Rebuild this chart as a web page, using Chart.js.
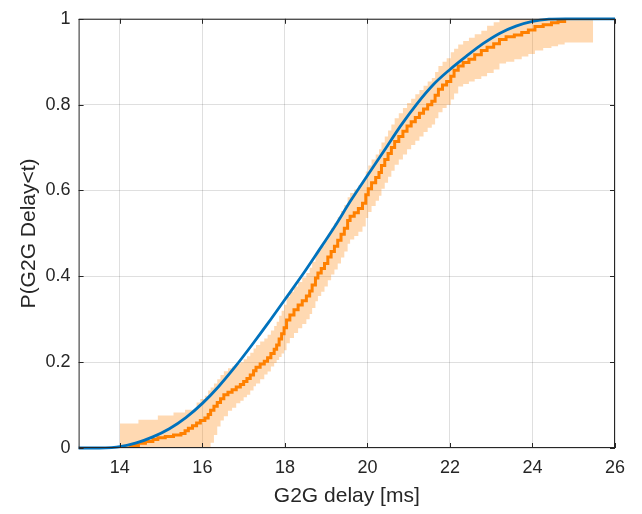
<!DOCTYPE html>
<html>
<head>
<meta charset="utf-8">
<script src="https://cdn.jsdelivr.net/npm/chart.js@4"></script>
<style>
  html, body { margin: 0; padding: 0; background: #fff; }
  #wrap { width: 642px; height: 514px; }
</style>
</head>
<body>
<div id="wrap"><canvas id="cdf" width="642" height="514"></canvas></div>
<script>
// Empirical CDF of the G2G delay (stairs)
const ecdfX = [
  14.00, 14.25, 14.45, 14.62, 14.80, 14.92, 15.10, 15.30, 15.48, 15.58,
  15.66, 15.76, 15.86, 15.95, 16.06, 16.14, 16.20, 16.28, 16.36, 16.44,
  16.52, 16.62, 16.72, 16.82, 16.92, 17.00, 17.08, 17.16, 17.24, 17.30,
  17.40, 17.50, 17.58, 17.66, 17.74, 17.80, 17.86, 17.92, 17.98, 18.04,
  18.12, 18.22, 18.32, 18.42, 18.52, 18.60, 18.66, 18.74, 18.80, 18.88,
  18.96, 19.04, 19.12, 19.20, 19.28, 19.36, 19.44, 19.52, 19.58, 19.68,
  19.78, 19.88, 19.96, 20.02, 20.10, 20.20, 20.28, 20.34, 20.42, 20.50,
  20.58, 20.66, 20.76, 20.86, 20.96, 21.06, 21.16, 21.26, 21.36, 21.46,
  21.56, 21.64, 21.72, 21.82, 21.92, 22.02, 22.10, 22.20, 22.32, 22.46,
  22.60, 22.76, 22.90, 23.06, 23.20, 23.36, 23.56, 23.74, 23.90, 24.06,
  24.26, 24.46, 24.62, 24.78
];
const ecdfP = [
  0.000, 0.006, 0.011, 0.015, 0.020, 0.024, 0.027, 0.030, 0.034, 0.040,
  0.046, 0.052, 0.058, 0.064, 0.070, 0.078, 0.088, 0.097, 0.106, 0.115,
  0.124, 0.130, 0.136, 0.142, 0.148, 0.155, 0.162, 0.170, 0.180, 0.188,
  0.196, 0.202, 0.210, 0.220, 0.230, 0.240, 0.254, 0.266, 0.280, 0.298,
  0.310, 0.322, 0.333, 0.343, 0.354, 0.366, 0.380, 0.396, 0.408, 0.418,
  0.430, 0.445, 0.458, 0.470, 0.484, 0.498, 0.512, 0.530, 0.540, 0.548,
  0.558, 0.570, 0.590, 0.604, 0.618, 0.630, 0.642, 0.658, 0.672, 0.686,
  0.700, 0.714, 0.726, 0.738, 0.750, 0.760, 0.770, 0.780, 0.790, 0.800,
  0.808, 0.822, 0.836, 0.846, 0.854, 0.866, 0.880, 0.890, 0.898, 0.906,
  0.916, 0.926, 0.934, 0.942, 0.952, 0.958, 0.962, 0.968, 0.974, 0.982,
  0.986, 0.991, 0.994, 0.997
];

// Confidence bounds of the ECDF (same steps, band runs on to the last bound)
const bandX = ecdfX.concat([25.47]);
const bandUpper = [
  0.057, 0.057, 0.066, 0.066, 0.066, 0.076, 0.076, 0.083, 0.083, 0.089,
  0.089, 0.089, 0.106, 0.114, 0.122, 0.134, 0.141, 0.150, 0.160, 0.170,
  0.179, 0.186, 0.190, 0.196, 0.200, 0.207, 0.214, 0.222, 0.232, 0.240,
  0.248, 0.255, 0.264, 0.274, 0.284, 0.294, 0.308, 0.320, 0.334, 0.352,
  0.364, 0.376, 0.387, 0.397, 0.408, 0.420, 0.434, 0.450, 0.462, 0.472,
  0.484, 0.499, 0.512, 0.524, 0.538, 0.552, 0.566, 0.584, 0.594, 0.602,
  0.612, 0.624, 0.644, 0.658, 0.672, 0.684, 0.696, 0.712, 0.726, 0.740,
  0.754, 0.768, 0.780, 0.792, 0.804, 0.814, 0.824, 0.834, 0.844, 0.854,
  0.862, 0.876, 0.890, 0.900, 0.908, 0.922, 0.930, 0.940, 0.948, 0.956,
  0.964, 0.972, 0.984, 0.992, 1, 1, 1, 1, 1, 1,
  1, 1, 1, 1, 1
];
const bandLower = [
  0, 0, 0, 0, 0, 0, 0, 0, 0, 0,
  0, 0, 0, 0, 0, 0, 0.012, 0.030, 0.050, 0.064,
  0.074, 0.087, 0.094, 0.104, 0.110, 0.118, 0.124, 0.134, 0.144, 0.150,
  0.160, 0.171, 0.178, 0.190, 0.198, 0.205, 0.212, 0.220, 0.228, 0.244,
  0.256, 0.268, 0.279, 0.289, 0.300, 0.312, 0.326, 0.342, 0.354, 0.364,
  0.376, 0.391, 0.404, 0.416, 0.430, 0.444, 0.458, 0.476, 0.486, 0.494,
  0.504, 0.516, 0.536, 0.550, 0.564, 0.576, 0.588, 0.604, 0.618, 0.632,
  0.646, 0.660, 0.672, 0.684, 0.696, 0.706, 0.716, 0.726, 0.736, 0.746,
  0.754, 0.768, 0.782, 0.792, 0.800, 0.812, 0.826, 0.842, 0.848, 0.854,
  0.860, 0.866, 0.874, 0.882, 0.896, 0.900, 0.906, 0.912, 0.918, 0.926,
  0.932, 0.936, 0.940, 0.945, 0.945
];

// Fitted CDF (smooth curve)
const fitX = [13.0, 13.5, 13.8, 14.0, 14.4, 14.8, 15.2, 15.6, 16.0, 16.4, 16.8, 17.2,
  17.6, 18.0, 18.4, 18.8, 19.2, 19.6, 20.0, 20.4, 20.8, 21.2, 21.6, 22.0,
  22.4, 22.8, 23.2, 23.6, 24.0, 24.4, 24.8, 26.0];
const fitP = [0, 0, 0.001, 0.003, 0.012, 0.026, 0.045, 0.071, 0.104, 0.144, 0.190, 0.240,
  0.292, 0.346, 0.400, 0.457, 0.515, 0.577, 0.635, 0.692, 0.750, 0.802, 0.847, 0.882,
  0.913, 0.942, 0.966, 0.983, 0.994, 0.999, 1, 1];

const xTicks = [14, 16, 18, 20, 22, 24, 26];
const yTicks = [0, 0.2, 0.4, 0.6, 0.8, 1];

const toPoints = (xs, ys) => xs.map((x, i) => ({ x: x, y: ys[i] }));

const axisColor = '#262626';
const gridColor = 'rgba(38,38,38,0.15)';
const fontFamily = '"Liberation Sans", Arial, Helvetica, sans-serif';

// MATLAB-like box with inward ticks on all four sides
const boxPlugin = {
  id: 'boxTicks',
  afterDraw(chart) {
    const { ctx, chartArea: a, scales } = chart;
    const len = 5;
    ctx.save();
    ctx.strokeStyle = axisColor;
    ctx.lineWidth = 1;
    ctx.strokeRect(a.left + 0.5, a.top + 0.5, a.right - a.left - 1, a.bottom - a.top - 1);
    ctx.beginPath();
    xTicks.forEach(v => {
      const px = Math.round(scales.x.getPixelForValue(v)) + 0.5;
      ctx.moveTo(px, a.bottom); ctx.lineTo(px, a.bottom - len);
      ctx.moveTo(px, a.top); ctx.lineTo(px, a.top + len);
    });
    yTicks.forEach(v => {
      const py = Math.round(scales.y.getPixelForValue(v)) + 0.5;
      ctx.moveTo(a.left, py); ctx.lineTo(a.left + len, py);
      ctx.moveTo(a.right, py); ctx.lineTo(a.right - len, py);
    });
    ctx.stroke();
    ctx.restore();
  }
};

new Chart(document.getElementById('cdf'), {
  type: 'line',
  data: {
    datasets: [
      {
        label: 'Fit',
        data: toPoints(fitX, fitP),
        borderColor: '#0072BD',
        borderWidth: 2.8,
        pointRadius: 0,
        cubicInterpolationMode: 'monotone',
        fill: false,
        clip: false,
        order: 0
      },
      {
        label: 'ECDF',
        data: toPoints(ecdfX, ecdfP),
        borderColor: '#FF8000',
        borderWidth: 3,
        pointRadius: 0,
        stepped: true,
        fill: false,
        order: 1
      },
      {
        label: 'Upper bound',
        data: toPoints(bandX, bandUpper),
        borderWidth: 0,
        borderColor: 'rgba(0,0,0,0)',
        backgroundColor: 'rgba(255,128,0,0.3)',
        pointRadius: 0,
        stepped: true,
        fill: '+1',
        order: 2
      },
      {
        label: 'Lower bound',
        data: toPoints(bandX, bandLower),
        borderWidth: 0,
        borderColor: 'rgba(0,0,0,0)',
        pointRadius: 0,
        stepped: true,
        fill: false,
        order: 3
      }
    ]
  },
  options: {
    responsive: false,
    animation: false,
    layout: { padding: { top: 12, right: 27, left: 0, bottom: 0 } },
    plugins: {
      legend: { display: false },
      tooltip: { enabled: false }
    },
    scales: {
      x: {
        type: 'linear',
        min: 13,
        max: 26,
        afterBuildTicks: s => { s.ticks = xTicks.map(v => ({ value: v })); },
        afterFit: s => { s.height = 66; },
        grid: { color: gridColor, drawTicks: false },
        border: { display: false },
        ticks: {
          color: axisColor,
          padding: 9,
          maxRotation: 0,
          font: { family: fontFamily, size: 18 }
        },
        title: {
          display: true,
          text: 'G2G delay [ms]',
          color: axisColor,
          font: { family: fontFamily, size: 21 },
          padding: { top: 0, bottom: 5 }
        }
      },
      y: {
        type: 'linear',
        min: 0,
        max: 1,
        afterBuildTicks: s => { s.ticks = yTicks.map(v => ({ value: v })); },
        afterFit: s => { s.width = 78.6; },
        grid: { color: gridColor, drawTicks: false },
        border: { display: false },
        ticks: {
          color: axisColor,
          padding: 8,
          callback: v => String(v),
          font: { family: fontFamily, size: 18 }
        },
        title: {
          display: true,
          text: 'P(G2G Delay<t)',
          color: axisColor,
          font: { family: fontFamily, size: 21 },
          padding: { top: 17, bottom: 0 }
        }
      }
    }
  },
  plugins: [boxPlugin]
});
</script>
</body>
</html>
